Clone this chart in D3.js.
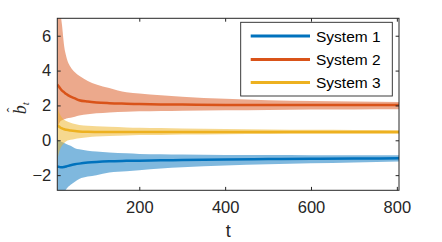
<!DOCTYPE html>
<html><head><meta charset="utf-8">
<script src="https://cdn.jsdelivr.net/npm/d3@7"></script>
<style>html,body{margin:0;padding:0;background:#fff;}svg{display:block;}</style>
</head><body>
<script>
const tValues = [9, 12, 15, 20, 25, 30, 40, 50, 60, 80, 100, 130, 170, 200, 250, 300, 400, 500, 600, 700, 805];
const seriesNames = ["System 1", "System 2", "System 3"];
const sys1Mean  = [-1.5, -1.52, -1.54, -1.55, -1.53, -1.5, -1.43, -1.38, -1.34, -1.28, -1.24, -1.2, -1.18, -1.17, -1.15, -1.13, -1.1, -1.08, -1.06, -1.05, -1.03];
const sys1Upper = [0.1, 0.0, -0.05, -0.1, -0.15, -0.22, -0.32, -0.45, -0.52, -0.6, -0.65, -0.7, -0.75, -0.78, -0.8, -0.82, -0.84, -0.85, -0.86, -0.86, -0.86];
const sys1Lower = [-5, -4.3, -3.8, -3.3, -3.0, -2.8, -2.55, -2.38, -2.22, -2.08, -2.0, -1.85, -1.78, -1.72, -1.62, -1.55, -1.45, -1.38, -1.32, -1.27, -1.22];
const sys2Mean  = [3.2, 3.1, 3.0, 2.85, 2.75, 2.65, 2.5, 2.4, 2.3, 2.22, 2.17, 2.13, 2.1, 2.08, 2.06, 2.05, 2.03, 2.03, 2.02, 2.02, 2.02];
const sys2Upper = [9.5, 8.5, 7.6, 6.6, 5.4, 4.8, 4.2, 3.9, 3.7, 3.4, 3.2, 3.0, 2.75, 2.68, 2.58, 2.5, 2.38, 2.3, 2.26, 2.23, 2.2];
const sys2Lower = [0.75, 0.9, 1.05, 1.15, 1.2, 1.25, 1.3, 1.35, 1.42, 1.5, 1.55, 1.6, 1.64, 1.66, 1.68, 1.7, 1.72, 1.74, 1.76, 1.77, 1.78];
const sys3Mean  = [0.85, 0.8, 0.75, 0.68, 0.63, 0.6, 0.56, 0.53, 0.51, 0.49, 0.48, 0.47, 0.47, 0.47, 0.47, 0.47, 0.47, 0.47, 0.47, 0.47, 0.47];
const sys3Upper = [2.0, 1.7, 1.5, 1.3, 1.18, 1.1, 1.0, 0.93, 0.88, 0.83, 0.8, 0.77, 0.74, 0.72, 0.7, 0.68, 0.65, 0.62, 0.6, 0.59, 0.58];
const sys3Lower = [-1.15, -0.8, -0.55, -0.3, -0.15, -0.05, 0.03, 0.08, 0.12, 0.18, 0.22, 0.25, 0.28, 0.3, 0.31, 0.33, 0.35, 0.36, 0.37, 0.38, 0.38];
const xTicks = [200, 400, 600, 800];
const yTicks = [-2, 0, 2, 4, 6];
const colors = ["#0072BD", "#D95319", "#EDB120"];

const W = 442, H = 242;
const L = 57.3, R = 399, T = 18.3, B = 190.3;
const svg = d3.select("body").append("svg").attr("width", W).attr("height", H);
const x = d3.scaleLinear().domain([9, 805]).range([L, R]);
const y = d3.scaleLinear().domain([-2.87, 7]).range([B, T]);

svg.append("defs").append("clipPath").attr("id", "clip")
  .append("rect").attr("x", L).attr("y", T).attr("width", R - L).attr("height", B - T);

const series = [
  {mean: sys1Mean, up: sys1Upper, lo: sys1Lower},
  {mean: sys2Mean, up: sys2Upper, lo: sys2Lower},
  {mean: sys3Mean, up: sys3Upper, lo: sys3Lower}
];
const plot = svg.append("g").attr("clip-path", "url(#clip)");
const area = d3.area().curve(d3.curveMonotoneX)
  .x((d, i) => x(tValues[i])).y0(d => y(d[0])).y1(d => y(d[1]));
const line = d3.line().curve(d3.curveMonotoneX)
  .x((d, i) => x(tValues[i])).y(d => y(d));
series.forEach((s, k) => {
  plot.append("path").datum(s.lo.map((v, i) => [v, s.up[i]]))
    .attr("d", area).attr("fill", colors[k]).attr("fill-opacity", 0.5).attr("stroke", "none");
  plot.append("path").datum(s.mean).attr("d", line)
    .attr("fill", "none").attr("stroke", colors[k]).attr("stroke-width", 2.5);
});

// axes box
const axCol = "#262626";
const fontTick = "16.5px 'Liberation Sans', Arial, sans-serif";
svg.append("rect").attr("x", L).attr("y", T).attr("width", R - L).attr("height", B - T)
  .attr("fill", "none").attr("stroke", axCol).attr("stroke-width", 1);
const bottomAx = d3.axisBottom(x).tickValues(xTicks).tickSizeInner(-3.4).tickSizeOuter(0).tickPadding(10.5);
const gb = svg.append("g").attr("transform", `translate(0,${B})`).call(bottomAx);
const topAx = d3.axisTop(x).tickValues(xTicks).tickSizeInner(-3.4).tickSizeOuter(0).tickFormat("");
const gt = svg.append("g").attr("transform", `translate(0,${T})`).call(topAx);
const leftAx = d3.axisLeft(y).tickValues(yTicks).tickSizeInner(-3.4).tickSizeOuter(0).tickPadding(6);
const gl = svg.append("g").attr("transform", `translate(${L},0)`).call(leftAx);
const rightAx = d3.axisRight(y).tickValues(yTicks).tickSizeInner(-3.4).tickSizeOuter(0).tickFormat("");
const gr = svg.append("g").attr("transform", `translate(${R},0)`).call(rightAx);
[gb, gt, gl, gr].forEach(g => {
  g.select(".domain").remove();
  g.selectAll("line").attr("stroke", axCol);
  g.selectAll("text").attr("fill", axCol).style("font", fontTick);
});

// axis labels
svg.append("text").attr("x", (L + R) / 2).attr("y", 237).attr("text-anchor", "middle")
  .attr("fill", axCol).style("font", "18px 'Liberation Sans', Arial, sans-serif").text("t");
const yl = svg.append("g").attr("transform", `translate(25.5,${(T + B) / 2 + 4}) rotate(-90)`);
const ylt = yl.append("text").attr("text-anchor", "middle").attr("fill", axCol)
  .style("font-family", "'Liberation Serif', 'DejaVu Serif', serif").style("font-style", "italic");
ylt.append("tspan").style("font-size", "18px").text("b");
ylt.append("tspan").style("font-size", "11px").attr("dy", 3.5).text("t");
yl.append("text").attr("x", -1.5).attr("y", -8.5).attr("text-anchor", "middle").attr("fill", axCol)
  .style("font", "14px 'Liberation Serif', serif").text("ˆ");

// legend
const lg = svg.append("g");
lg.append("rect").attr("x", 240.7).attr("y", 22.3).attr("width", 151.6).attr("height", 73.7)
  .attr("fill", "#fff").attr("stroke", axCol).attr("stroke-width", 0.9);
const legY = [36, 59.5, 82.5];
seriesNames.forEach((n, k) => {
  lg.append("line").attr("x1", 250.7).attr("x2", 310).attr("y1", legY[k]).attr("y2", legY[k])
    .attr("stroke", colors[k]).attr("stroke-width", 3);
  lg.append("text").attr("x", 316).attr("y", legY[k] + 5.6).attr("fill", "#000")
    .style("font", "15.5px 'Liberation Sans', Arial, sans-serif").text(n);
});
</script>
</body></html>
